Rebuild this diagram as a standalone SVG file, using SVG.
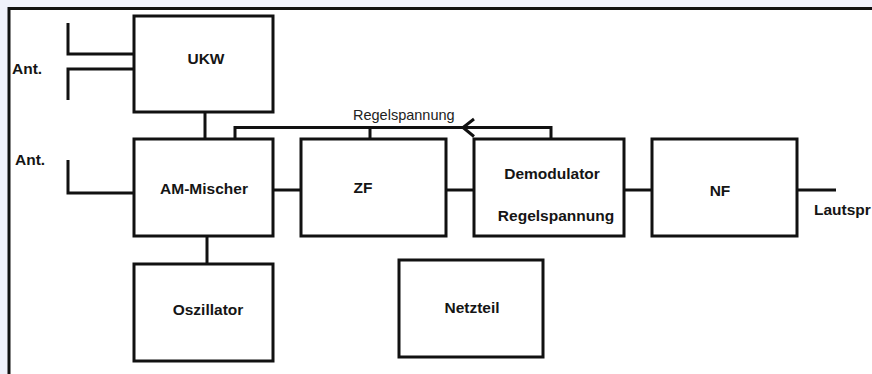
<svg xmlns="http://www.w3.org/2000/svg" width="872" height="374" viewBox="0 0 872 374">
<style>
.box{fill:#fff;stroke:#111;stroke-width:3}
.ln{fill:none;stroke:#111;stroke-width:3}
.t{font-family:"Liberation Sans",Arial,sans-serif;font-weight:bold;font-size:15.5px;fill:#151515}
.c{text-anchor:middle}
.n{font-family:"Liberation Sans",Arial,sans-serif;font-size:14.5px;fill:#222}
</style>
<rect x="0" y="0" width="872" height="374" fill="#f0f1fb"/>
<rect x="9" y="8.5" width="880" height="380" fill="#fff" stroke="#111" stroke-width="3"/>
<g id="connectors">
<polyline class="ln" points="68,23 68,54 134,54"/>
<polyline class="ln" points="68,100 68,69 134,69"/>
<polyline class="ln" points="68,160 68,193 134,193"/>
<line class="ln" x1="205" y1="112" x2="205" y2="139"/>
<line class="ln" x1="207" y1="236" x2="207" y2="264"/>
<line class="ln" x1="273" y1="190" x2="301" y2="190"/>
<line class="ln" x1="446" y1="190" x2="474" y2="190"/>
<line class="ln" x1="624" y1="190" x2="652" y2="190"/>
<line class="ln" x1="797" y1="190" x2="836" y2="190"/>
<polyline class="ln" points="551,139 551,127.5 235,127.5 235,139"/>
<line class="ln" x1="370" y1="127.5" x2="370" y2="139"/>
<polyline class="ln" points="474,119 463,127.5 474,136.5"/>
<text class="n" x="353" y="120">Regelspannung</text>
</g>
<g id="ant1"><text class="t" x="12" y="74">Ant.</text></g>
<g id="ant2"><text class="t" x="15" y="165">Ant.</text></g>
<g id="ukw"><rect class="box" x="134" y="16" width="139" height="96"/><text class="t c" x="206" y="64">UKW</text></g>
<g id="am-mischer"><rect class="box" x="134" y="139" width="139" height="97"/><text class="t c" x="204" y="193.5">AM-Mischer</text></g>
<g id="oszillator"><rect class="box" x="134" y="264" width="139" height="97"/><text class="t c" x="208" y="315">Oszillator</text></g>
<g id="zf"><rect class="box" x="301" y="139" width="145" height="97"/><text class="t c" x="363" y="193">ZF</text></g>
<g id="demodulator"><rect class="box" x="474" y="139" width="150" height="97"/><text class="t c" x="552" y="179">Demodulator</text><text class="t c" x="556" y="221">Regelspannung</text></g>
<g id="nf"><rect class="box" x="652" y="139" width="145" height="97"/><text class="t c" x="720" y="196">NF</text></g>
<g id="netzteil"><rect class="box" x="399" y="260" width="144" height="97"/><text class="t c" x="472" y="313">Netzteil</text></g>
<g id="lautsprecher"><text class="t" x="814" y="215">Lautspr</text></g>
</svg>
